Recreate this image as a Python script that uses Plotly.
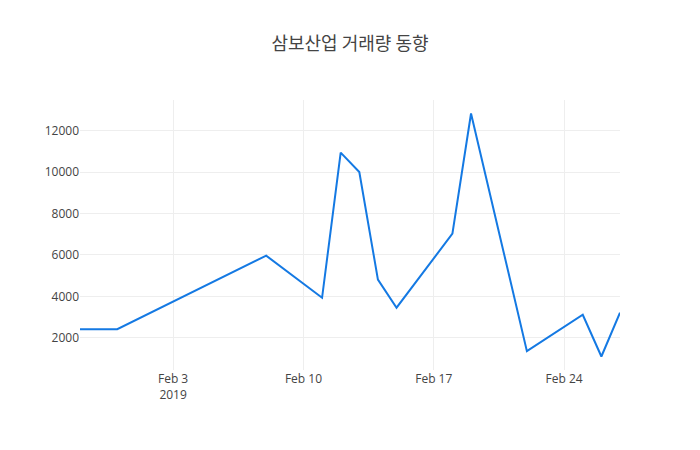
import plotly.graph_objects as go

dates = ["2019-01-29", "2019-01-31", "2019-02-08", "2019-02-11", "2019-02-12",
         "2019-02-13", "2019-02-14", "2019-02-15", "2019-02-18", "2019-02-19",
         "2019-02-22", "2019-02-25", "2019-02-26", "2019-02-27"]
volume = [2410, 2410, 5970, 3930, 10950, 10010, 4810, 3450, 7030, 12840,
          1350, 3110, 1090, 3210]

fig = go.Figure()
fig.add_trace(go.Scatter(x=dates, y=volume, mode="lines",
                         line=dict(color="#1479e3", width=2)))

fig.update_layout(
    template="none",
    width=700, height=450,
    title=dict(text="삼보산업 거래량 동향", x=0.5,
               font=dict(family="Noto Sans CJK KR", size=18, color="#444")),
    font=dict(family="Open Sans", size=12, color="#444"),
    margin=dict(l=80, r=80, t=100, b=80),
    xaxis=dict(type="date", gridcolor="#eee", showline=False, zeroline=False),
    yaxis=dict(gridcolor="#eee", showline=False, zeroline=False, tickformat="d"),
    showlegend=False,
)

fig.write_html("out.html", config={"displayModeBar": False},
               post_script="document.body.style.margin='0';")
